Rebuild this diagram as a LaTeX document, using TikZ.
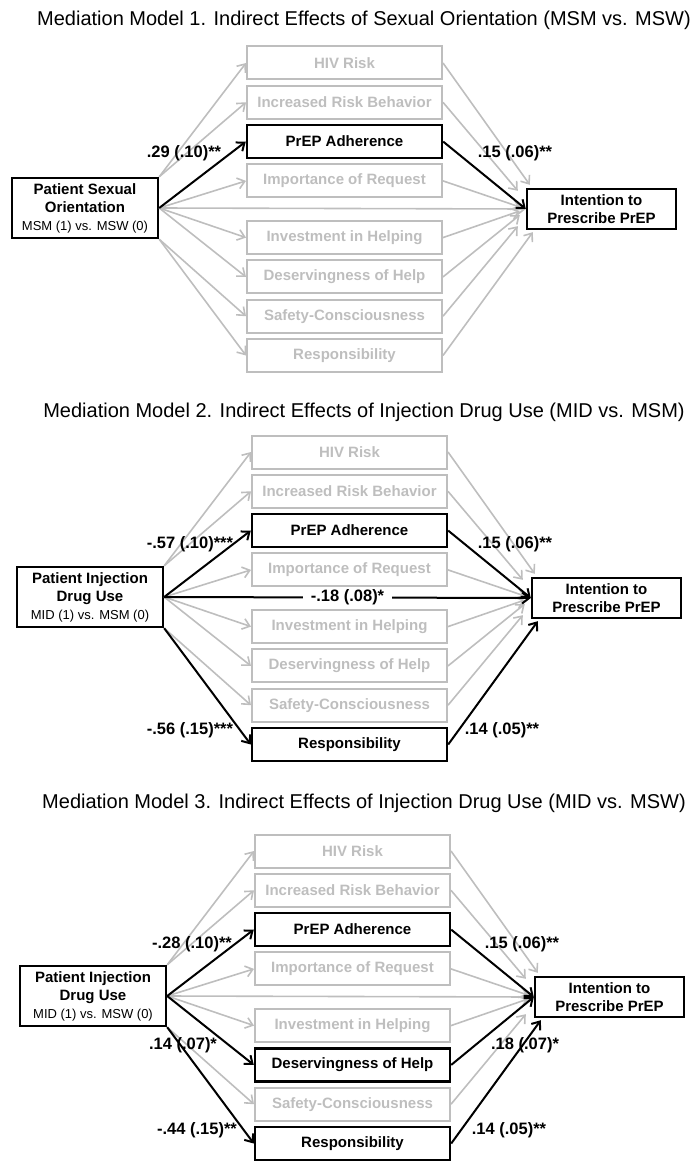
\documentclass[tikz,border=0pt]{standalone}
\usepackage{fontspec}
\setmainfont{Liberation Sans}
\usetikzlibrary{arrows.meta,calc}
\definecolor{gr}{RGB}{190,190,190}
\newcommand\subline[1]{{\mdseries\fontsize{13}{16}\selectfont #1}}
\begin{document}
\begin{tikzpicture}[x=1pt,y=-1pt,
  ttl/.style={font=\fontsize{20}{24}\selectfont, inner sep=0pt},
  med/.style={draw=gr, line width=2pt, text=gr, minimum width=195pt, minimum height=33pt, inner sep=0pt, font=\bfseries\fontsize{15}{18}\selectfont},
  medk/.style={med, draw=black, text=black, line width=2.4pt},
  lbox/.style={draw=black, line width=2.4pt, minimum width=146pt, minimum height=60pt, inner sep=0pt, align=center, font=\bfseries\fontsize{15}{18}\selectfont},
  rbox/.style={draw=black, line width=2.4pt, minimum width=149pt, minimum height=40pt, inner sep=0pt, align=center, font=\bfseries\fontsize{15}{18}\selectfont},
  ga/.style={draw=gr, line width=1.6pt, -{Straight Barb[length=7pt,width=11pt]}},
  ka/.style={draw=black, line width=2pt, -{Straight Barb[length=7pt,width=11pt]}},
  coef/.style={font=\bfseries\fontsize{16.5}{19}\selectfont, inner sep=1pt},
]
\useasboundingbox (0,0) rectangle (690,1161);

% ---------------- Panel 1 ----------------
\node[ttl] (t1) at (364,20) {Mediation Model 1. Indirect Effects of Sexual Orientation (MSM vs. MSW)};
\begin{scope}[shift={(0,63)}]
\node[med]  (aHIV)  at (344.5,0)     {HIV Risk};
\node[med]  (aInc)  at (344.5,39.3)  {Increased Risk Behavior};
\node[medk] (aPrep) at (344.5,78.6)  {PrEP Adherence};
\node[med]  (aImp)  at (344.5,117.9) {Importance of Request};
\node[med]  (aInv)  at (344.5,174.6) {Investment in Helping};
\node[med]  (aDes)  at (344.5,213.9) {Deservingness of Help};
\node[med]  (aSaf)  at (344.5,253.2) {Safety-Consciousness};
\node[med]  (aRes)  at (344.5,292.5) {Responsibility};
\node[lbox] (aL) at (85,145) {Patient Sexual\\Orientation\\\subline{MSM (1) vs. MSW (0)}};
\node[rbox] (aR) at (601.5,146) {Intention to\\Prescribe PrEP};
\end{scope}
\foreach \m/\s in {HIV/north east, Inc/north east, Imp/east, Inv/east, Des/east, Saf/south east, Res/south east}
  \draw[ga] (aL.\s) -- (a\m.west);
\foreach \m/\an/\ox/\oy in {HIV/north west/4/-3, Inc/north west/-8/3, Imp/west/-6/-2, Inv/west/-6/2, Des/west/-6/6, Saf/south west/-8/-4, Res/south west/7/2}
  \draw[ga] (a\m.east) -- ($(aR.\an)+(\ox,\oy)$);
\draw[ga] (aL.east) -- (aR.west);
\draw[ka] (aL.east) -- (aPrep.west);
\draw[ka] (aPrep.east) -- (aR.west);
\node[coef] (a1) at (184,153) {.29 (.10)**};
\node[coef] (a2) at (515,153) {.15 (.06)**};

% ---------------- Panel 2 ----------------
\node[ttl] (t2) at (364,412) {Mediation Model 2. Indirect Effects of Injection Drug Use (MID vs. MSM)};
\begin{scope}[shift={(5,452)}]
\node[med]  (bHIV)  at (344.5,0)     {HIV Risk};
\node[med]  (bInc)  at (344.5,39.3)  {Increased Risk Behavior};
\node[medk] (bPrep) at (344.5,78.6)  {PrEP Adherence};
\node[med]  (bImp)  at (344.5,117.9) {Importance of Request};
\node[med]  (bInv)  at (344.5,174.6) {Investment in Helping};
\node[med]  (bDes)  at (344.5,213.9) {Deservingness of Help};
\node[med]  (bSaf)  at (344.5,253.2) {Safety-Consciousness};
\node[medk] (bRes)  at (344.5,292.5) {Responsibility};
\node[lbox] (bL) at (85,145) {Patient Injection\\Drug Use\\\subline{MID (1) vs. MSM (0)}};
\node[rbox] (bR) at (601.5,146) {Intention to\\Prescribe PrEP};
\end{scope}
\foreach \m/\s in {HIV/north east, Inc/north east, Imp/east, Inv/east, Des/east, Saf/south east}
  \draw[ga] (bL.\s) -- (b\m.west);
\foreach \m/\an/\ox/\oy in {HIV/north west/4/-3, Inc/north west/-8/3, Imp/west/-6/-2, Inv/west/-6/2, Des/west/-6/6, Saf/south west/-8/-4}
  \draw[ga] (b\m.east) -- ($(bR.\an)+(\ox,\oy)$);
\draw[ka] (bL.east) -- node[coef, fill=white, inner xsep=8pt] (b3) {-.18 (.08)*} (bR.west);
\draw[ka] (bL.east) -- (bPrep.west);
\draw[ka] (bPrep.east) -- (bR.west);
\draw[ka] (bL.south east) -- (bRes.west);
\draw[ka] (bRes.east) -- ($(bR.south west)+(7,2)$);
\node[coef] (b1) at (190,544) {-.57 (.10)***};
\node[coef] (b2) at (515,544) {.15 (.06)**};
\node[coef] (b4) at (190,730) {-.56 (.15)***};
\node[coef] (b5) at (502,730) {.14 (.05)**};

% ---------------- Panel 3 ----------------
\node[ttl] (t3) at (364,803) {Mediation Model 3. Indirect Effects of Injection Drug Use (MID vs. MSW)};
\begin{scope}[shift={(8,851)}]
\node[med]  (cHIV)  at (344.5,0)     {HIV Risk};
\node[med]  (cInc)  at (344.5,39.3)  {Increased Risk Behavior};
\node[medk] (cPrep) at (344.5,78.6)  {PrEP Adherence};
\node[med]  (cImp)  at (344.5,117.9) {Importance of Request};
\node[med]  (cInv)  at (344.5,174.6) {Investment in Helping};
\node[medk] (cDes)  at (344.5,213.9) {Deservingness of Help};
\node[med]  (cSaf)  at (344.5,253.2) {Safety-Consciousness};
\node[medk] (cRes)  at (344.5,292.5) {Responsibility};
\node[lbox] (cL) at (85,145) {Patient Injection\\Drug Use\\\subline{MID (1) vs. MSW (0)}};
\node[rbox] (cR) at (601.5,146) {Intention to\\Prescribe PrEP};
\end{scope}
\foreach \m/\s in {HIV/north east, Inc/north east, Imp/east, Inv/east, Saf/south east}
  \draw[ga] (cL.\s) -- (c\m.west);
\foreach \m/\an/\ox/\oy in {HIV/north west/4/-3, Inc/north west/-8/3, Imp/west/-6/-2, Inv/west/-6/2, Saf/south west/-8/-4}
  \draw[ga] (c\m.east) -- ($(cR.\an)+(\ox,\oy)$);
\draw[ga] (cL.east) -- (cR.west);
\draw[ka] (cL.east) -- (cPrep.west);
\draw[ka] (cPrep.east) -- (cR.west);
\draw[ka] (cL.east) -- (cDes.west);
\draw[ka] (cDes.east) -- (cR.west);
\draw[ka] (cL.south east) -- (cRes.west);
\draw[ka] (cRes.east) -- ($(cR.south west)+(7,2)$);
\node[coef] (c1) at (192,944) {-.28 (.10)**};
\node[coef] (c2) at (522,944) {.15 (.06)**};
\node[coef] (c3) at (183,1045) {.14 (.07)*};
\node[coef] (c4) at (525,1045) {.18 (.07)*};
\node[coef] (c5) at (197,1130) {-.44 (.15)**};
\node[coef] (c6) at (509,1130) {.14 (.05)**};
\end{tikzpicture}
\end{document}
